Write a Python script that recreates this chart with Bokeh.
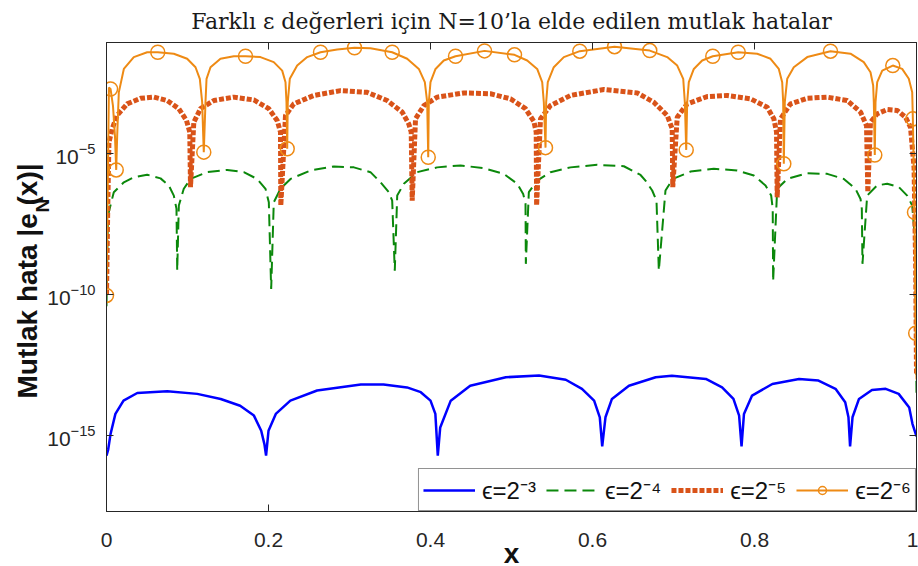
import numpy as np
from bokeh.embed import file_html
from bokeh.models import (FixedTicker, Legend, LegendItem, LinearAxis, LogAxis,
                          LogTickFormatter, Range1d, Title)
from bokeh.plotting import figure
from bokeh.resources import INLINE

# Absolute error |e_N(x)| for N = 10, stored as log10 of the error.
# eps = 2^-3
eps3_x = [0.000, 0.002, 0.005, 0.011, 0.021, 0.038, 0.075, 0.112, 0.141, 0.165, 0.182, 0.191, 0.195, 0.197,
          0.200, 0.209, 0.227, 0.260, 0.314, 0.342, 0.371, 0.388, 0.400, 0.406, 0.409,
          0.412, 0.425, 0.449, 0.493, 0.534, 0.567, 0.587, 0.602, 0.609, 0.612,
          0.616, 0.624, 0.645, 0.678, 0.698, 0.740, 0.760, 0.774, 0.781, 0.784,
          0.787, 0.797, 0.822, 0.855, 0.879, 0.900, 0.912, 0.916, 0.918,
          0.921, 0.929, 0.945, 0.962, 0.978, 0.991, 0.995, 1.000]
eps3_log = [-15.70, -15.50, -14.93, -14.22, -13.75, -13.48, -13.42, -13.51, -13.69, -13.93, -14.28, -14.82, -15.30, -15.70,
            -14.82, -14.22, -13.75, -13.39, -13.18, -13.18, -13.28, -13.45, -13.75, -14.22, -15.70,
            -14.70, -13.75, -13.22, -12.92, -12.86, -13.01, -13.33, -13.75, -14.34, -15.37,
            -14.34, -13.69, -13.22, -12.92, -12.87, -12.98, -13.28, -13.69, -14.28, -15.37,
            -14.22, -13.57, -13.16, -12.98, -13.04, -13.33, -13.81, -14.34, -15.37,
            -14.34, -13.69, -13.37, -13.33, -13.51, -13.99, -14.57, -15.02]

# eps = 2^-4
eps4_x = [0.0000, 0.0016, 0.0028, 0.0090, 0.0214, 0.0337, 0.0502, 0.0667, 0.0769, 0.0831, 0.0864, 0.0873,
          0.0893, 0.0954, 0.1037, 0.1243, 0.1490, 0.1695, 0.1860, 0.1963, 0.2004, 0.2033,
          0.2065, 0.2148, 0.2272, 0.2519, 0.2807, 0.3054, 0.3259, 0.3383, 0.3486, 0.3527, 0.3559,
          0.3589, 0.3671, 0.3835, 0.4082, 0.4370, 0.4658, 0.4905, 0.5070, 0.5144, 0.5173, 0.5177,
          0.5214, 0.5317, 0.5481, 0.5728, 0.6058, 0.6387, 0.6593, 0.6654, 0.6737, 0.6790, 0.6819,
          0.6901, 0.6991, 0.7210, 0.7498, 0.7786, 0.7992, 0.8136, 0.8206, 0.8225, 0.8230,
          0.8280, 0.8404, 0.8651, 0.8898, 0.9103, 0.9247, 0.9309, 0.9325, 0.9333,
          0.9391, 0.9514, 0.9638, 0.9782, 0.9885, 0.9947, 0.9980, 1.0000]
eps4_log = [-10.40, -7.43, -7.07, -6.36, -6.01, -5.83, -5.74, -5.87, -6.12, -6.48, -6.95, -9.14,
            -6.83, -6.24, -5.89, -5.65, -5.57, -5.65, -5.89, -6.24, -6.72, -9.79,
            -6.72, -6.24, -5.89, -5.59, -5.45, -5.48, -5.65, -6.01, -6.36, -6.66, -9.14,
            -6.48, -6.06, -5.65, -5.48, -5.41, -5.51, -5.71, -6.06, -6.42, -6.77, -8.90,
            -6.36, -5.95, -5.65, -5.48, -5.39, -5.44, -5.75, -5.95, -6.30, -6.66, -9.14,
            -6.30, -5.89, -5.63, -5.53, -5.59, -5.77, -6.12, -6.48, -6.95, -9.52,
            -6.24, -5.89, -5.69, -5.71, -5.89, -6.24, -6.60, -6.95, -8.90,
            -6.48, -6.12, -6.06, -6.18, -6.48, -6.83, -8.00, -13.50]

# eps = 2^-5
eps5_x = [0.0000, 0.0015, 0.0030, 0.0070, 0.0131, 0.0255, 0.0420, 0.0584, 0.0749, 0.0893, 0.0988, 0.1028, 0.1037,
          0.1078, 0.1160, 0.1325, 0.1572, 0.1819, 0.2004, 0.2107, 0.2148, 0.2152,
          0.2210, 0.2312, 0.2559, 0.2889, 0.3218, 0.3465, 0.3651, 0.3732, 0.3762, 0.3774,
          0.3815, 0.3918, 0.4083, 0.4412, 0.4741, 0.4988, 0.5173, 0.5276, 0.5305, 0.5310,
          0.5358, 0.5481, 0.5728, 0.6140, 0.6552, 0.6757, 0.6922, 0.6984, 0.6991,
          0.7046, 0.7169, 0.7416, 0.7663, 0.7951, 0.8157, 0.8239, 0.8272, 0.8280,
          0.8321, 0.8444, 0.8651, 0.8898, 0.9144, 0.9309, 0.9383, 0.9399,
          0.9432, 0.9515, 0.9638, 0.9762, 0.9864, 0.9926, 0.9970, 0.9990, 1.0000]
eps5_log = [-10.00, -7.00, -4.60, -4.11, -3.64, -3.23, -3.03, -2.99, -3.11, -3.40, -3.82, -4.23, -6.18,
            -3.88, -3.40, -3.11, -2.99, -3.09, -3.40, -3.82, -4.23, -6.83,
            -3.64, -3.23, -2.93, -2.76, -2.82, -3.11, -3.52, -3.94, -4.23, -6.66,
            -3.76, -3.29, -2.99, -2.84, -2.87, -3.05, -3.40, -3.85, -4.23, -6.83,
            -3.76, -3.29, -2.93, -2.72, -2.84, -3.17, -3.64, -4.11, -6.18,
            -3.70, -3.23, -2.97, -2.93, -3.05, -3.35, -3.76, -4.23, -6.54,
            -3.76, -3.23, -3.03, -2.99, -3.11, -3.52, -4.00, -6.36,
            -3.88, -3.58, -3.43, -3.46, -3.70, -4.06, -5.50, -9.00, -12.80]

# eps = 2^-6
eps6_x = [0.0000, 0.0030, 0.0050, 0.0080, 0.0105, 0.0120,
          0.0132, 0.0152, 0.0214, 0.0337, 0.0502, 0.0633, 0.0831, 0.0996, 0.1099, 0.1152, 0.1181, 0.1194, 0.1201,
          0.1222, 0.1235, 0.1284, 0.1407, 0.1572, 0.1716, 0.1901, 0.2065, 0.2169, 0.2210, 0.2222, 0.2231,
          0.2238, 0.2263, 0.2354, 0.2478, 0.2642, 0.2848, 0.3062, 0.3259, 0.3527, 0.3712, 0.3856, 0.3930, 0.3959, 0.3972,
          0.3979, 0.4000, 0.4062, 0.4164, 0.4309, 0.4667, 0.5037, 0.5194, 0.5317, 0.5379, 0.5399, 0.5420,
          0.5428, 0.5448, 0.5522, 0.5646, 0.5843, 0.6272, 0.6707, 0.6922, 0.7046, 0.7120, 0.7140, 0.7157,
          0.7169, 0.7189, 0.7251, 0.7354, 0.7485, 0.7799, 0.8033, 0.8198, 0.8300, 0.8342, 0.8354, 0.8362,
          0.8374, 0.8404, 0.8485, 0.8651, 0.8938, 0.9185, 0.9349, 0.9432, 0.9465, 0.9473, 0.9485,
          0.9494, 0.9515, 0.9577, 0.9707, 0.9823, 0.9905, 0.9947, 0.9955, 0.9975, 0.9990, 1.0000]
eps6_log = [-10.02, -2.65, -2.70, -3.30, -4.40, -5.57,
            -4.35, -2.82, -1.99, -1.57, -1.40, -1.40, -1.45, -1.63, -1.93, -2.34, -3.17, -4.35, -4.94,
            -3.17, -2.34, -1.93, -1.63, -1.54, -1.54, -1.57, -1.75, -2.05, -2.46, -3.17, -4.82,
            -3.17, -2.34, -1.87, -1.57, -1.40, -1.30, -1.24, -1.26, -1.40, -1.63, -1.99, -2.46, -3.17, -5.12,
            -3.17, -2.46, -1.99, -1.69, -1.54, -1.35, -1.49, -1.69, -1.99, -2.46, -3.17, -4.78,
            -3.17, -2.46, -1.93, -1.57, -1.36, -1.20, -1.34, -1.57, -1.87, -2.34, -3.17, -4.86,
            -3.17, -2.46, -1.99, -1.69, -1.54, -1.40, -1.45, -1.63, -1.99, -2.46, -3.17, -5.35,
            -3.17, -2.34, -1.93, -1.57, -1.36, -1.45, -1.75, -2.11, -2.58, -3.17, -5.04,
            -3.17, -2.46, -2.05, -1.87, -1.99, -2.34, -2.82, -3.76, -7.07, -11.36, -13.00]
# grid points of the eps = 2^-6 curve that carry a circle marker
eps6_marker_x = [0.0000, 0.0050, 0.0120, 0.0633, 0.1201, 0.1716, 0.2231, 0.2642, 0.3062, 0.3527,
                 0.3972, 0.4309, 0.4667, 0.5037, 0.5420, 0.5843, 0.6272, 0.6707, 0.7157, 0.7485,
                 0.7799, 0.8362, 0.8938, 0.9485, 0.9707, 0.9955, 0.9975, 0.9990]

x_ticks = [0, 0.2, 0.4, 0.6, 0.8, 1]
x_tick_labels = ["0", "0.2", "0.4", "0.6", "0.8", "1"]
y_ticks = [1e-15, 1e-10, 1e-5]

series_labels = ["ϵ=2⁻³", "ϵ=2⁻⁴", "ϵ=2⁻⁵", "ϵ=2⁻⁶"]


def err(logs):
    return 10.0 ** np.asarray(logs, dtype=float)


INK = "#262626"
SANS = "Liberation Sans"
C_BLUE, C_GREEN, C_RED, C_ORANGE = "#0000FF", "#0B880B", "#D95319", "#EE8A14"

p = figure(width=918, height=566, y_axis_type="log",
           x_range=Range1d(0, 1), y_range=Range1d(10 ** -17.68, 10 ** -1.053),
           output_backend="svg", toolbar_location=None,
           min_border_left=106, min_border_right=2, min_border_top=42, min_border_bottom=55,
           background_fill_color="white", border_fill_color="white")
p.outline_line_color = INK
p.outline_line_width = 1
p.grid.visible = False

p.title.text = "Farklı ε değerleri için N=10’la elde edilen mutlak hatalar"
p.title.text_font = "DejaVu Serif"
p.title.text_font_size = "22px"
p.title.text_font_style = "normal"
p.title.text_color = "#1a1a1a"
p.title.align = "center"
p.title.vertical_align = "top"
p.title.standoff = 14

# bottom axis
xa = p.xaxis[0]
xa.ticker = FixedTicker(ticks=x_ticks)
xa.major_label_overrides = dict(zip(x_ticks, x_tick_labels))
xa.major_label_text_font = SANS
xa.major_label_text_font_size = "21px"
xa.major_label_text_color = INK
xa.major_label_standoff = 21
xa.major_tick_in = 7
xa.major_tick_out = 0
xa.minor_tick_line_color = None
xa.axis_line_color = INK
xa.major_tick_line_color = INK

# left axis
ya = p.yaxis[0]
ya.ticker = FixedTicker(ticks=y_ticks)
ya.formatter = LogTickFormatter()
ya.major_label_text_font = SANS
ya.major_label_text_font_size = "21px"
ya.major_label_text_color = INK
ya.major_label_standoff = 11
ya.major_tick_in = 7
ya.major_tick_out = 0
ya.minor_tick_line_color = None
ya.axis_line_color = INK
ya.major_tick_line_color = INK

# box ticks on top and right (labels kept tiny and transparent)
box_axis = dict(major_label_text_font_size="1px", major_label_text_color=None,
                major_label_standoff=0, major_tick_in=7, major_tick_out=0,
                minor_tick_line_color=None, axis_line_color=INK, major_tick_line_color=INK)
top = LinearAxis(ticker=FixedTicker(ticks=x_ticks), **box_axis)
right = LogAxis(ticker=FixedTicker(ticks=y_ticks), **box_axis)
p.add_layout(top, "above")
p.add_layout(right, "right")

r3 = p.line(eps3_x, err(eps3_log), line_color=C_BLUE, line_width=2.5)
r4 = p.line(eps4_x, err(eps4_log), line_color=C_GREEN, line_width=2, line_dash="12 6")
r5 = p.line(eps5_x, err(eps5_log), line_color=C_RED, line_width=5, line_dash="5 2", line_cap="butt")
r6 = p.line(eps6_x, err(eps6_log), line_color=C_ORANGE, line_width=2)
mark_idx = [eps6_x.index(v) for v in eps6_marker_x]
m6 = p.scatter([eps6_x[i] for i in mark_idx], err([eps6_log[i] for i in mark_idx]),
               marker="circle", size=14, fill_color=None, line_color=C_ORANGE, line_width=1.5)

legend = Legend(items=[LegendItem(label=series_labels[0], renderers=[r3]),
                       LegendItem(label=series_labels[1], renderers=[r4]),
                       LegendItem(label=series_labels[2], renderers=[r5]),
                       LegendItem(label=series_labels[3], renderers=[r6, m6])],
                location="bottom_right", orientation="horizontal", margin=0,
                padding=4, spacing=10, glyph_width=52, glyph_height=20, label_standoff=7,
                label_text_font=SANS, label_text_font_size="24px", label_text_color="#111111",
                border_line_color=INK, border_line_width=1, background_fill_color="white",
                background_fill_alpha=1)
p.add_layout(legend)

# axis titles: y title with a subscript N, x title below the tick labels
lab = dict(text_font=SANS, text_font_style="bold", text_color="#111111")
p.add_layout(Title(text="N", align="left", offset=299, vertical_align="bottom",
                   standoff=-16, text_font_size="19px", **lab), "left")
p.add_layout(Title(text="Mutlak hata |e  (x)|", align="left", offset=113, vertical_align="bottom",
                   standoff=-10, text_font_size="28px", **lab), "left")
p.add_layout(Title(text="x", align="center", vertical_align="top",
                   standoff=-24, text_font_size="28px", **lab), "below")

open("out.html", "w").write(file_html(p, INLINE))
